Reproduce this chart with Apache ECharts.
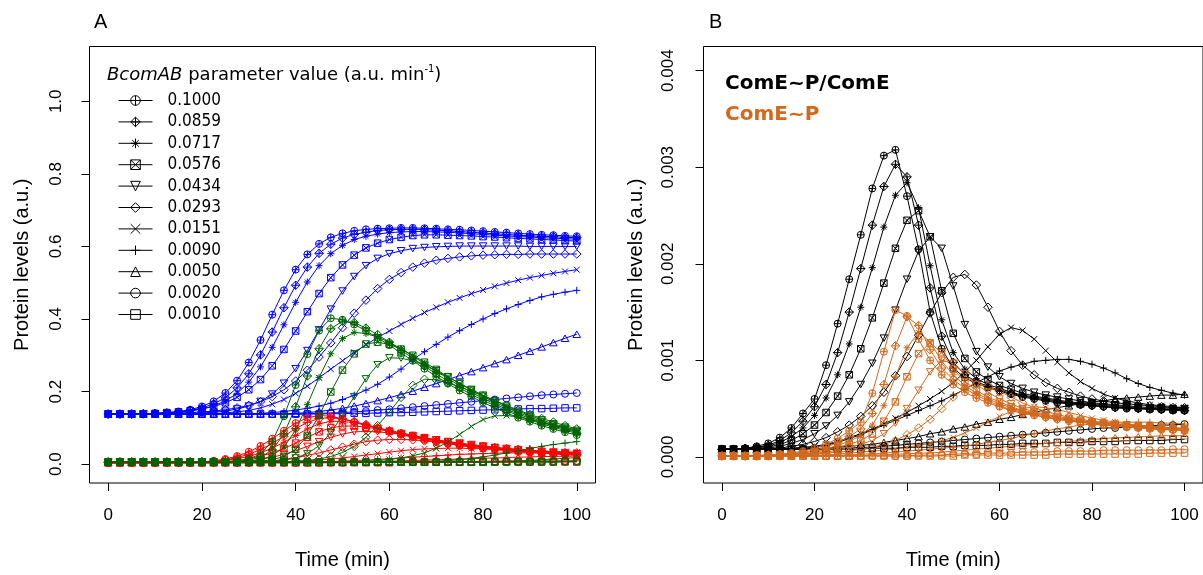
<!DOCTYPE html>
<html><head><meta charset="utf-8">
<script src="https://cdn.jsdelivr.net/npm/echarts@6/dist/echarts.min.js"></script>
<style>html,body{margin:0;padding:0;background:#fff}#c{width:1203px;height:575px}</style>
</head><body><div id="c"></div>
<script>
const times = [0,2.5,5,7.5,10,12.5,15,17.5,20,22.5,25,27.5,30,32.5,35,37.5,40,42.5,45,47.5,50,52.5,55,57.5,60,62.5,65,67.5,70,72.5,75,77.5,80,82.5,85,87.5,90,92.5,95,97.5,100];
const paramLabels = ['0.1000','0.0859','0.0717','0.0576','0.0434','0.0293','0.0151','0.0090','0.0050','0.0020','0.0010'];
const xTicks = [0,20,40,60,80,100];
const yTicksA = [0,0.2,0.4,0.6,0.8,1.0];
const yTicksB = [0,0.001,0.002,0.003,0.004];

// Panel A, blue
const blue1 = [0.138,0.138,0.139,0.139,0.140,0.142,0.145,0.150,0.159,0.173,0.196,0.230,0.280,0.342,0.412,0.479,0.536,0.578,0.607,0.625,0.636,0.643,0.647,0.649,0.650,0.651,0.651,0.650,0.649,0.647,0.646,0.644,0.642,0.640,0.638,0.636,0.634,0.632,0.631,0.629,0.628];
const blue2 = [0.138,0.138,0.138,0.139,0.139,0.141,0.143,0.148,0.155,0.166,0.183,0.210,0.249,0.301,0.364,0.431,0.493,0.543,0.581,0.606,0.623,0.633,0.639,0.644,0.646,0.647,0.647,0.646,0.645,0.643,0.641,0.639,0.637,0.635,0.633,0.631,0.629,0.628,0.627,0.625,0.624];
const blue3 = [0.138,0.138,0.138,0.139,0.139,0.141,0.143,0.147,0.152,0.161,0.174,0.195,0.226,0.268,0.322,0.384,0.446,0.502,0.547,0.580,0.603,0.619,0.628,0.634,0.638,0.640,0.641,0.641,0.640,0.639,0.637,0.635,0.633,0.631,0.629,0.627,0.626,0.624,0.623,0.621,0.620];
const blue4 = [0.138,0.138,0.138,0.139,0.140,0.142,0.144,0.147,0.152,0.159,0.169,0.184,0.205,0.233,0.271,0.316,0.367,0.420,0.470,0.514,0.549,0.576,0.596,0.609,0.619,0.625,0.630,0.632,0.632,0.631,0.630,0.629,0.627,0.626,0.624,0.622,0.621,0.619,0.618,0.616,0.615];
const blue5 = [0.138,0.138,0.138,0.138,0.138,0.139,0.139,0.140,0.141,0.143,0.146,0.152,0.160,0.173,0.193,0.223,0.263,0.313,0.370,0.427,0.477,0.517,0.547,0.567,0.580,0.588,0.594,0.597,0.599,0.600,0.601,0.601,0.601,0.601,0.601,0.601,0.600,0.600,0.600,0.600,0.600];
const blue6 = [0.138,0.138,0.138,0.138,0.139,0.140,0.141,0.142,0.144,0.146,0.150,0.155,0.162,0.172,0.186,0.205,0.229,0.259,0.295,0.334,0.376,0.416,0.452,0.484,0.509,0.528,0.543,0.554,0.562,0.567,0.571,0.574,0.576,0.577,0.578,0.578,0.579,0.579,0.579,0.579,0.579];
const blue7 = [0.138,0.138,0.138,0.138,0.138,0.138,0.138,0.138,0.138,0.139,0.141,0.144,0.148,0.155,0.165,0.178,0.195,0.215,0.238,0.262,0.285,0.308,0.329,0.349,0.367,0.385,0.402,0.418,0.432,0.446,0.458,0.470,0.480,0.490,0.499,0.507,0.514,0.520,0.526,0.531,0.536];
const blue8 = [0.138,0.138,0.138,0.138,0.138,0.138,0.138,0.138,0.138,0.138,0.138,0.138,0.138,0.140,0.142,0.145,0.149,0.154,0.160,0.168,0.178,0.190,0.204,0.220,0.240,0.262,0.288,0.310,0.330,0.350,0.368,0.385,0.400,0.415,0.428,0.440,0.451,0.461,0.468,0.474,0.479];
const blue9 = [0.138,0.138,0.138,0.138,0.138,0.138,0.138,0.138,0.138,0.138,0.138,0.138,0.138,0.138,0.138,0.139,0.140,0.142,0.145,0.149,0.154,0.160,0.167,0.175,0.183,0.192,0.201,0.212,0.222,0.233,0.244,0.255,0.266,0.277,0.288,0.300,0.311,0.323,0.335,0.347,0.358];
const blue10 = [0.138,0.138,0.138,0.138,0.138,0.138,0.138,0.138,0.138,0.138,0.138,0.138,0.138,0.138,0.138,0.138,0.138,0.139,0.140,0.141,0.142,0.144,0.146,0.149,0.151,0.154,0.157,0.160,0.163,0.166,0.169,0.172,0.175,0.178,0.181,0.184,0.187,0.190,0.192,0.194,0.196];
const blue11 = [0.138,0.138,0.138,0.138,0.138,0.138,0.138,0.138,0.138,0.138,0.138,0.138,0.138,0.138,0.138,0.138,0.138,0.138,0.138,0.139,0.139,0.140,0.140,0.141,0.142,0.142,0.143,0.144,0.145,0.146,0.147,0.148,0.149,0.150,0.151,0.152,0.153,0.153,0.154,0.155,0.155];

// Panel A, green
const green1 = [0.006,0.006,0.006,0.006,0.006,0.006,0.006,0.006,0.006,0.006,0.006,0.009,0.014,0.028,0.062,0.132,0.218,0.303,0.368,0.402,0.398,0.385,0.368,0.348,0.328,0.306,0.285,0.263,0.242,0.222,0.203,0.186,0.170,0.155,0.141,0.128,0.117,0.106,0.097,0.088,0.080];
const green2 = [0.006,0.006,0.006,0.006,0.006,0.006,0.006,0.006,0.006,0.006,0.006,0.008,0.011,0.019,0.039,0.083,0.158,0.243,0.318,0.373,0.394,0.390,0.375,0.357,0.336,0.314,0.292,0.270,0.249,0.229,0.210,0.192,0.176,0.161,0.147,0.134,0.122,0.111,0.102,0.093,0.085];
const green3 = [0.006,0.006,0.006,0.006,0.006,0.006,0.006,0.006,0.006,0.006,0.006,0.006,0.008,0.012,0.023,0.047,0.094,0.164,0.239,0.304,0.346,0.363,0.360,0.350,0.336,0.318,0.298,0.277,0.256,0.236,0.216,0.198,0.181,0.166,0.151,0.138,0.126,0.115,0.105,0.096,0.088];
const green4 = [0.006,0.006,0.006,0.006,0.006,0.006,0.006,0.006,0.006,0.006,0.006,0.006,0.006,0.008,0.012,0.021,0.041,0.079,0.134,0.199,0.259,0.304,0.331,0.336,0.330,0.317,0.300,0.281,0.261,0.241,0.222,0.204,0.187,0.171,0.156,0.142,0.130,0.118,0.108,0.099,0.090];
const green5 = [0.006,0.006,0.006,0.006,0.006,0.006,0.006,0.006,0.006,0.006,0.006,0.006,0.006,0.006,0.008,0.011,0.017,0.029,0.051,0.087,0.134,0.186,0.235,0.274,0.293,0.292,0.285,0.272,0.257,0.240,0.223,0.206,0.190,0.175,0.160,0.146,0.134,0.122,0.111,0.102,0.093];
const green6 = [0.006,0.006,0.006,0.006,0.006,0.006,0.006,0.006,0.006,0.006,0.006,0.006,0.006,0.006,0.006,0.006,0.008,0.010,0.014,0.021,0.032,0.049,0.074,0.106,0.144,0.184,0.217,0.234,0.232,0.224,0.213,0.201,0.188,0.175,0.162,0.149,0.137,0.126,0.116,0.106,0.097];
const green7 = [0.006,0.006,0.006,0.006,0.006,0.006,0.006,0.006,0.006,0.006,0.006,0.006,0.006,0.006,0.006,0.006,0.006,0.006,0.006,0.006,0.006,0.007,0.008,0.010,0.013,0.017,0.023,0.031,0.044,0.061,0.082,0.104,0.123,0.133,0.134,0.130,0.123,0.115,0.107,0.100,0.094];
const green8 = [0.006,0.006,0.006,0.006,0.006,0.006,0.006,0.006,0.006,0.006,0.006,0.006,0.006,0.006,0.006,0.006,0.006,0.006,0.006,0.006,0.006,0.006,0.006,0.006,0.006,0.006,0.006,0.007,0.008,0.010,0.012,0.016,0.020,0.025,0.031,0.037,0.043,0.049,0.054,0.058,0.062];
const green9 = [0.006,0.006,0.006,0.006,0.006,0.006,0.006,0.006,0.006,0.006,0.006,0.006,0.006,0.006,0.006,0.006,0.006,0.006,0.006,0.006,0.006,0.006,0.006,0.006,0.006,0.006,0.006,0.006,0.006,0.006,0.006,0.006,0.006,0.007,0.008,0.009,0.010,0.012,0.014,0.016,0.018];
const green10 = [0.006,0.006,0.006,0.006,0.006,0.006,0.006,0.006,0.006,0.006,0.006,0.006,0.006,0.006,0.006,0.006,0.006,0.006,0.006,0.006,0.006,0.006,0.006,0.006,0.006,0.006,0.006,0.006,0.006,0.006,0.006,0.006,0.006,0.006,0.006,0.006,0.006,0.007,0.007,0.008,0.008];
const green11 = [0.006,0.006,0.006,0.006,0.006,0.006,0.006,0.006,0.006,0.006,0.006,0.006,0.006,0.006,0.006,0.006,0.006,0.006,0.006,0.006,0.006,0.006,0.006,0.006,0.006,0.006,0.006,0.006,0.006,0.006,0.006,0.006,0.006,0.006,0.006,0.006,0.006,0.006,0.006,0.007,0.007];

// Panel A, red
const red1 = [0.004,0.004,0.004,0.004,0.004,0.004,0.004,0.005,0.006,0.009,0.014,0.022,0.034,0.050,0.070,0.092,0.113,0.128,0.134,0.132,0.125,0.116,0.107,0.098,0.089,0.081,0.074,0.067,0.061,0.056,0.051,0.047,0.043,0.040,0.037,0.034,0.032,0.030,0.028,0.026,0.025];
const red2 = [0.004,0.004,0.004,0.004,0.004,0.004,0.004,0.005,0.006,0.008,0.012,0.018,0.027,0.040,0.057,0.077,0.098,0.115,0.126,0.128,0.124,0.117,0.109,0.100,0.092,0.084,0.077,0.070,0.064,0.058,0.053,0.049,0.045,0.042,0.039,0.036,0.034,0.031,0.029,0.028,0.026];
const red3 = [0.004,0.004,0.004,0.004,0.004,0.004,0.004,0.004,0.005,0.007,0.010,0.015,0.021,0.031,0.044,0.060,0.079,0.097,0.111,0.118,0.118,0.114,0.108,0.100,0.093,0.086,0.079,0.072,0.066,0.060,0.055,0.051,0.047,0.043,0.040,0.037,0.035,0.032,0.030,0.029,0.027];
const red4 = [0.004,0.004,0.004,0.004,0.004,0.004,0.004,0.004,0.004,0.005,0.007,0.010,0.015,0.022,0.031,0.043,0.058,0.074,0.089,0.100,0.105,0.105,0.102,0.097,0.091,0.085,0.079,0.073,0.067,0.062,0.057,0.052,0.048,0.045,0.041,0.038,0.036,0.033,0.031,0.030,0.028];
const red5 = [0.004,0.004,0.004,0.004,0.004,0.004,0.004,0.004,0.004,0.004,0.005,0.007,0.009,0.013,0.019,0.027,0.037,0.049,0.062,0.074,0.083,0.089,0.090,0.089,0.086,0.082,0.077,0.072,0.067,0.062,0.058,0.054,0.050,0.046,0.043,0.040,0.037,0.035,0.033,0.031,0.029];
const red6 = [0.004,0.004,0.004,0.004,0.004,0.004,0.004,0.004,0.004,0.004,0.004,0.004,0.005,0.007,0.009,0.013,0.018,0.024,0.031,0.039,0.047,0.055,0.062,0.066,0.068,0.068,0.067,0.064,0.061,0.058,0.055,0.052,0.049,0.046,0.043,0.041,0.038,0.036,0.034,0.032,0.031];
const red7 = [0.004,0.004,0.004,0.004,0.004,0.004,0.004,0.004,0.004,0.004,0.004,0.004,0.004,0.004,0.005,0.006,0.007,0.009,0.011,0.014,0.017,0.021,0.025,0.029,0.033,0.037,0.040,0.042,0.043,0.044,0.044,0.043,0.042,0.041,0.040,0.039,0.037,0.036,0.035,0.034,0.033];
const red8 = [0.004,0.004,0.004,0.004,0.004,0.004,0.004,0.004,0.004,0.004,0.004,0.004,0.004,0.004,0.004,0.004,0.005,0.005,0.006,0.007,0.008,0.010,0.011,0.013,0.015,0.017,0.019,0.021,0.023,0.025,0.027,0.028,0.029,0.030,0.031,0.031,0.031,0.031,0.031,0.031,0.031];
const red9 = [0.004,0.004,0.004,0.004,0.004,0.004,0.004,0.004,0.004,0.004,0.004,0.004,0.004,0.004,0.004,0.004,0.004,0.004,0.004,0.005,0.005,0.006,0.006,0.007,0.008,0.009,0.010,0.011,0.012,0.013,0.014,0.015,0.016,0.017,0.018,0.019,0.020,0.021,0.021,0.022,0.022];
const red10 = [0.004,0.004,0.004,0.004,0.004,0.004,0.004,0.004,0.004,0.004,0.004,0.004,0.004,0.004,0.004,0.004,0.004,0.004,0.004,0.004,0.004,0.005,0.005,0.005,0.005,0.006,0.006,0.006,0.007,0.007,0.007,0.007,0.008,0.008,0.008,0.008,0.009,0.009,0.009,0.009,0.009];
const red11 = [0.004,0.004,0.004,0.004,0.004,0.004,0.004,0.004,0.004,0.004,0.004,0.004,0.004,0.004,0.004,0.004,0.004,0.004,0.004,0.004,0.004,0.004,0.004,0.004,0.004,0.005,0.005,0.005,0.005,0.005,0.005,0.005,0.005,0.006,0.006,0.006,0.006,0.006,0.006,0.006,0.006];

// Panel B, black (ComE~P/ComE)
const black1 = [0.00008,0.00008,0.00009,0.00011,0.00014,0.00020,0.00030,0.00045,0.00060,0.00095,0.00138,0.00184,0.00230,0.00278,0.00312,0.00318,0.00270,0.00215,0.00150,0.00112,0.00092,0.00082,0.00076,0.00072,0.00068,0.00065,0.00062,0.00060,0.00058,0.00056,0.00055,0.00054,0.00053,0.00052,0.00051,0.00050,0.00050,0.00049,0.00049,0.00048,0.00048];
const black2 = [0.00008,0.00008,0.00009,0.00010,0.00012,0.00017,0.00025,0.00037,0.00052,0.00075,0.00108,0.00150,0.00195,0.00240,0.00280,0.00303,0.00290,0.00240,0.00175,0.00125,0.00098,0.00085,0.00078,0.00073,0.00069,0.00066,0.00063,0.00061,0.00059,0.00057,0.00056,0.00054,0.00053,0.00052,0.00051,0.00051,0.00050,0.00050,0.00049,0.00049,0.00048];
const black3 = [0.00008,0.00008,0.00009,0.00010,0.00011,0.00015,0.00021,0.00030,0.00043,0.00061,0.00085,0.00117,0.00155,0.00196,0.00238,0.00271,0.00284,0.00258,0.00198,0.00142,0.00108,0.00091,0.00081,0.00075,0.00071,0.00067,0.00064,0.00062,0.00060,0.00058,0.00056,0.00055,0.00054,0.00053,0.00052,0.00051,0.00050,0.00050,0.00049,0.00049,0.00048];
const black4 = [0.00008,0.00008,0.00008,0.00009,0.00010,0.00013,0.00017,0.00024,0.00033,0.00046,0.00063,0.00085,0.00112,0.00144,0.00180,0.00216,0.00245,0.00255,0.00228,0.00172,0.00128,0.00102,0.00088,0.00080,0.00074,0.00070,0.00066,0.00063,0.00061,0.00059,0.00057,0.00056,0.00055,0.00054,0.00053,0.00052,0.00051,0.00050,0.00050,0.00049,0.00049];
const black5 = [0.00008,0.00008,0.00008,0.00008,0.00009,0.00011,0.00014,0.00018,0.00024,0.00032,0.00043,0.00057,0.00075,0.00097,0.00123,0.00152,0.00184,0.00213,0.00228,0.00216,0.00177,0.00137,0.00109,0.00093,0.00083,0.00076,0.00071,0.00067,0.00064,0.00062,0.00060,0.00058,0.00056,0.00055,0.00054,0.00053,0.00052,0.00051,0.00051,0.00050,0.00050];
const black6 = [0.00008,0.00008,0.00008,0.00008,0.00008,0.00009,0.00011,0.00013,0.00016,0.00020,0.00026,0.00033,0.00042,0.00053,0.00067,0.00084,0.00104,0.00126,0.00149,0.00170,0.00186,0.00189,0.00178,0.00155,0.00130,0.00110,0.00095,0.00085,0.00077,0.00071,0.00067,0.00063,0.00060,0.00058,0.00056,0.00055,0.00054,0.00053,0.00052,0.00051,0.00051];
const black7 = [0.00008,0.00008,0.00008,0.00008,0.00008,0.00008,0.00009,0.00010,0.00011,0.00013,0.00016,0.00020,0.00024,0.00029,0.00034,0.00040,0.00046,0.00053,0.00060,0.00068,0.00077,0.00088,0.00100,0.00114,0.00127,0.00134,0.00131,0.00122,0.00110,0.00098,0.00087,0.00078,0.00071,0.00065,0.00061,0.00058,0.00056,0.00054,0.00053,0.00052,0.00051];
const black8 = [0.00008,0.00008,0.00008,0.00008,0.00008,0.00008,0.00009,0.00009,0.00010,0.00012,0.00015,0.00019,0.00023,0.00028,0.00033,0.00038,0.00043,0.00048,0.00053,0.00058,0.00064,0.00070,0.00077,0.00083,0.00089,0.00093,0.00096,0.00099,0.00100,0.00101,0.00101,0.00099,0.00096,0.00092,0.00087,0.00081,0.00076,0.00072,0.00069,0.00066,0.00064];
const black9 = [0.00008,0.00008,0.00008,0.00008,0.00008,0.00008,0.00008,0.00008,0.00009,0.00009,0.00010,0.00011,0.00012,0.00013,0.00015,0.00017,0.00019,0.00021,0.00024,0.00026,0.00029,0.00031,0.00034,0.00036,0.00039,0.00041,0.00044,0.00046,0.00049,0.00051,0.00053,0.00055,0.00057,0.00058,0.00060,0.00061,0.00062,0.00063,0.00064,0.00064,0.00065];
const black10 = [0.00008,0.00008,0.00008,0.00008,0.00008,0.00008,0.00008,0.00008,0.00008,0.00008,0.00009,0.00009,0.00010,0.00010,0.00011,0.00012,0.00013,0.00014,0.00015,0.00016,0.00017,0.00018,0.00019,0.00020,0.00021,0.00022,0.00023,0.00024,0.00025,0.00026,0.00027,0.00028,0.00029,0.00030,0.00030,0.00031,0.00032,0.00032,0.00033,0.00033,0.00034];
const black11 = [0.00008,0.00008,0.00008,0.00008,0.00008,0.00008,0.00008,0.00008,0.00008,0.00008,0.00008,0.00008,0.00008,0.00009,0.00009,0.00009,0.00010,0.00010,0.00010,0.00011,0.00011,0.00012,0.00012,0.00012,0.00013,0.00013,0.00014,0.00014,0.00014,0.00015,0.00015,0.00015,0.00016,0.00016,0.00016,0.00017,0.00017,0.00017,0.00017,0.00018,0.00018];

// Panel B, orange (ComE~P)
const orange1 = [0.00001,0.00001,0.00001,0.00002,0.00002,0.00003,0.00004,0.00006,0.00009,0.00013,0.00019,0.00027,0.00036,0.00066,0.00109,0.00152,0.00146,0.00122,0.00100,0.00085,0.00075,0.00067,0.00061,0.00056,0.00052,0.00048,0.00045,0.00043,0.00041,0.00039,0.00037,0.00036,0.00034,0.00033,0.00032,0.00031,0.00030,0.00029,0.00028,0.00028,0.00027];
const orange2 = [0.00001,0.00001,0.00001,0.00001,0.00002,0.00002,0.00003,0.00005,0.00007,0.00010,0.00015,0.00021,0.00029,0.00045,0.00075,0.00115,0.00145,0.00136,0.00111,0.00092,0.00080,0.00071,0.00064,0.00058,0.00053,0.00049,0.00046,0.00044,0.00041,0.00039,0.00038,0.00036,0.00035,0.00034,0.00032,0.00031,0.00030,0.00030,0.00029,0.00028,0.00028];
const orange3 = [0.00001,0.00001,0.00001,0.00001,0.00002,0.00002,0.00003,0.00004,0.00006,0.00008,0.00012,0.00016,0.00022,0.00033,0.00053,0.00083,0.00113,0.00129,0.00119,0.00099,0.00085,0.00074,0.00066,0.00060,0.00055,0.00051,0.00047,0.00045,0.00042,0.00040,0.00038,0.00037,0.00035,0.00034,0.00033,0.00032,0.00031,0.00030,0.00029,0.00029,0.00028];
const orange4 = [0.00001,0.00001,0.00001,0.00001,0.00001,0.00002,0.00002,0.00003,0.00005,0.00007,0.00010,0.00013,0.00017,0.00024,0.00037,0.00057,0.00083,0.00107,0.00118,0.00108,0.00091,0.00078,0.00069,0.00062,0.00057,0.00052,0.00048,0.00046,0.00043,0.00041,0.00039,0.00037,0.00036,0.00034,0.00033,0.00032,0.00031,0.00030,0.00030,0.00029,0.00028];
const orange5 = [0.00001,0.00001,0.00001,0.00001,0.00001,0.00002,0.00002,0.00003,0.00004,0.00005,0.00007,0.00010,0.00013,0.00017,0.00024,0.00035,0.00050,0.00069,0.00088,0.00100,0.00097,0.00086,0.00075,0.00067,0.00060,0.00055,0.00050,0.00047,0.00044,0.00042,0.00040,0.00038,0.00036,0.00035,0.00034,0.00033,0.00032,0.00031,0.00030,0.00029,0.00029];
const orange6 = [0.00001,0.00001,0.00001,0.00001,0.00001,0.00001,0.00002,0.00002,0.00003,0.00004,0.00005,0.00006,0.00008,0.00010,0.00013,0.00017,0.00023,0.00030,0.00039,0.00050,0.00062,0.00071,0.00075,0.00073,0.00068,0.00062,0.00056,0.00051,0.00047,0.00044,0.00041,0.00039,0.00037,0.00036,0.00034,0.00033,0.00032,0.00031,0.00030,0.00030,0.00029];
const orange7 = [0.00001,0.00001,0.00001,0.00001,0.00001,0.00001,0.00001,0.00002,0.00002,0.00002,0.00003,0.00004,0.00005,0.00006,0.00007,0.00008,0.00010,0.00012,0.00014,0.00017,0.00020,0.00025,0.00030,0.00036,0.00042,0.00047,0.00050,0.00052,0.00051,0.00049,0.00046,0.00043,0.00040,0.00038,0.00036,0.00034,0.00033,0.00032,0.00031,0.00030,0.00030];
const orange8 = [0.00001,0.00001,0.00001,0.00001,0.00001,0.00001,0.00001,0.00001,0.00001,0.00001,0.00002,0.00002,0.00003,0.00003,0.00004,0.00005,0.00006,0.00007,0.00008,0.00009,0.00010,0.00011,0.00013,0.00015,0.00017,0.00019,0.00022,0.00024,0.00027,0.00029,0.00031,0.00033,0.00034,0.00035,0.00036,0.00036,0.00036,0.00036,0.00035,0.00035,0.00034];
const orange9 = [0.00001,0.00001,0.00001,0.00001,0.00001,0.00001,0.00001,0.00001,0.00001,0.00001,0.00001,0.00001,0.00001,0.00002,0.00002,0.00003,0.00003,0.00004,0.00004,0.00005,0.00006,0.00007,0.00008,0.00009,0.00010,0.00011,0.00012,0.00013,0.00014,0.00015,0.00016,0.00017,0.00018,0.00019,0.00020,0.00020,0.00021,0.00021,0.00022,0.00022,0.00022];
const orange10 = [0.00001,0.00001,0.00001,0.00001,0.00001,0.00001,0.00001,0.00001,0.00001,0.00001,0.00001,0.00001,0.00001,0.00001,0.00001,0.00001,0.00001,0.00002,0.00002,0.00002,0.00003,0.00003,0.00003,0.00004,0.00004,0.00004,0.00005,0.00005,0.00005,0.00006,0.00006,0.00006,0.00006,0.00007,0.00007,0.00007,0.00007,0.00007,0.00007,0.00008,0.00008];
const orange11 = [0.00001,0.00001,0.00001,0.00001,0.00001,0.00001,0.00001,0.00001,0.00001,0.00001,0.00001,0.00001,0.00001,0.00001,0.00001,0.00001,0.00001,0.00001,0.00001,0.00001,0.00001,0.00002,0.00002,0.00002,0.00002,0.00002,0.00002,0.00002,0.00002,0.00003,0.00003,0.00003,0.00003,0.00003,0.00003,0.00003,0.00003,0.00004,0.00004,0.00004,0.00004];

const blueSet = [blue1,blue2,blue3,blue4,blue5,blue6,blue7,blue8,blue9,blue10,blue11];
const greenSet = [green1,green2,green3,green4,green5,green6,green7,green8,green9,green10,green11];
const redSet = [red1,red2,red3,red4,red5,red6,red7,red8,red9,red10,red11];
const blackSet = [black1,black2,black3,black4,black5,black6,black7,black8,black9,black10,black11];
const orangeSet = [orange1,orange2,orange3,orange4,orange5,orange6,orange7,orange8,orange9,orange10,orange11];

// R pch-like symbols
const CIRC = 'M0,5A5,5,0,1,1,10,5A5,5,0,1,1,0,5Z';
const SYM = [
  'path://' + CIRC + 'M5,0L5,10M0,5L10,5',
  'path://M5,0L10,5L5,10L0,5ZM5,0L5,10M0,5L10,5',
  'path://M5,0L5,10M0,5L10,5M1.5,1.5L8.5,8.5M8.5,1.5L1.5,8.5',
  'path://M0,0L10,0L10,10L0,10ZM0,0L10,10M10,0L0,10',
  'path://M0,0L10,0L5,8.66Z',
  'path://M5,0L10,5L5,10L0,5Z',
  'path://M0,0L10,10M10,0L0,10',
  'path://M5,0L5,10M0,5L10,5',
  'path://M5,0L10,8.66L0,8.66Z',
  'path://' + CIRC,
  'path://M0,0L10,0L10,10L0,10Z'
];
const SIZE = [7, 8.5, 7, 6.5, 7.5, 8.5, 6, 7, 7.5, 7, 6.5];

function mk(name, vals, color, i, gi) {
  return {
    type: 'line', name: name, xAxisIndex: gi, yAxisIndex: gi,
    data: times.map((t, k) => [t, vals[k]]),
    symbol: SYM[i], symbolSize: SIZE[i], symbolKeepAspect: true, showAllSymbol: true,
    lineStyle: { color: color, width: 1 },
    itemStyle: { color: 'none', borderColor: color, borderWidth: 1 },
    emphasis: { disabled: true }, silent: true, animation: false
  };
}

const series = [];
blueSet.forEach((v, i) => series.push(mk('blue ' + paramLabels[i], v, '#0000FF', i, 0)));
redSet.forEach((v, i) => series.push(mk('red ' + paramLabels[i], v, '#FF0000', i, 0)));
greenSet.forEach((v, i) => series.push(mk('green ' + paramLabels[i], v, '#006400', i, 0)));
blackSet.forEach((v, i) => series.push(mk(paramLabels[i], v, '#000000', i, 1)));
orangeSet.forEach((v, i) => series.push(mk('orange ' + paramLabels[i], v, '#D2691E', i, 1)));

const AX = 'Liberation Sans, Arial, sans-serif';
function xAxis(gi) {
  return {
    type: 'value', gridIndex: gi, min: -4, max: 104,
    axisLine: { show: false, onZero: false },
    axisTick: { show: true, length: 8, lineStyle: { color: '#000', width: 1 }, customValues: xTicks },
    axisLabel: { customValues: xTicks, color: '#000', fontFamily: AX, fontSize: 17, margin: 24 },
    splitLine: { show: false },
    name: 'Time (min)', nameLocation: 'middle', nameGap: 67,
    nameTextStyle: { color: '#000', fontFamily: AX, fontSize: 20 }
  };
}
function yAxis(gi, min, max, ticks, dec, margin, gap) {
  return {
    type: 'value', gridIndex: gi, min: min, max: max,
    axisLine: { show: false, onZero: false },
    axisTick: { show: true, length: 8, lineStyle: { color: '#000', width: 1 }, customValues: ticks },
    axisLabel: { customValues: ticks, rotate: 90, color: '#000', fontFamily: AX, fontSize: 17, margin: margin,
      formatter: v => v.toFixed(dec) },
    splitLine: { show: false },
    name: 'Protein levels (a.u.)', nameLocation: 'middle', nameGap: gap, nameRotate: 90,
    nameTextStyle: { color: '#000', fontFamily: AX, fontSize: 20 }
  };
}

const chart = echarts.init(document.getElementById('c'), null, { renderer: 'canvas' });
chart.setOption({
  animation: false,
  backgroundColor: '#fff',
  grid: [
    { left: 89.5, top: 46.5, width: 506, height: 441, show: true, borderColor: '#000', borderWidth: 1, backgroundColor: 'transparent' },
    { left: 703.5, top: 46.5, width: 505, height: 441, show: true, borderColor: '#000', borderWidth: 1, backgroundColor: 'transparent' }
  ],
  xAxis: [xAxis(0), xAxis(1)],
  yAxis: [
    yAxis(0, -0.052, 1.151, yTicksA, 1, 25, 57),
    yAxis(1, -0.00027, 0.00425, yTicksB, 3, 27, 57)
  ],
  legend: {
    data: paramLabels, orient: 'vertical', left: 118, top: 92, padding: 0,
    itemWidth: 34, itemHeight: 12, itemGap: 4.4, selectedMode: false,
    itemStyle: { color: 'none', borderColor: '#000', borderWidth: 1 },
    lineStyle: { color: '#000', width: 1 },
    textStyle: { color: '#000', fontFamily: 'DejaVu Sans Condensed, DejaVu Sans, sans-serif', fontSize: 17, lineHeight: 17, padding: [0, 0, 0, 10] }
  },
  graphic: [
    { type: 'text', left: 94, top: 12, style: { text: 'A', fill: '#000', font: '20px "Liberation Sans", Arial, sans-serif' } },
    { type: 'text', left: 709, top: 12, style: { text: 'B', fill: '#000', font: '20px "Liberation Sans", Arial, sans-serif' } },
    { type: 'text', left: 107, top: 64, style: {
        text: '{i|BcomAB} parameter value (a.u. min{s|-1})',
        fill: '#000', font: '18px "DejaVu Sans", sans-serif', lineHeight: 22,
        rich: {
          i: { fontStyle: 'italic', fontFamily: 'DejaVu Sans, sans-serif', fontSize: 18, fill: '#000' },
          s: { fontSize: 10, verticalAlign: 'top', fontFamily: 'DejaVu Sans, sans-serif', fill: '#000' }
        } } },
    { type: 'text', left: 725, top: 74, style: { text: 'ComE~P/ComE', fill: '#000', font: 'bold 20px "DejaVu Sans", sans-serif' } },
    { type: 'text', left: 725, top: 105, style: { text: 'ComE~P', fill: '#D2691E', font: 'bold 20px "DejaVu Sans", sans-serif' } }
  ],
  series: series
});
</script>
</body></html>
